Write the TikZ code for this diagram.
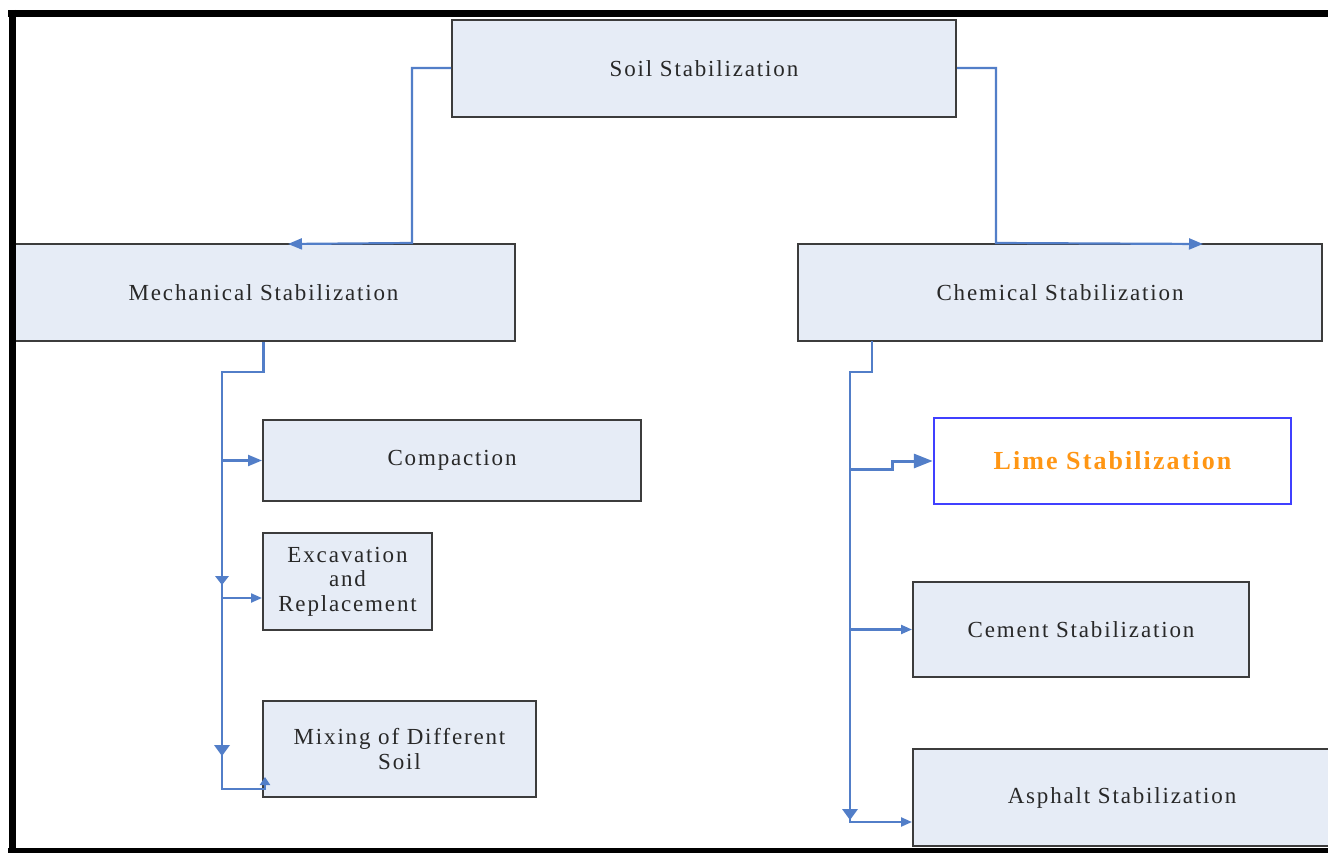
\documentclass[tikz,border=0pt]{standalone}
\usepackage{fontspec}
\usetikzlibrary{arrows.meta,calc}
\newfontfamily\lblfont{Liberation Serif}[LetterSpace=8]
\definecolor{boxfill}{RGB}{230,236,246}
\definecolor{boxline}{RGB}{60,60,60}
\definecolor{connblue}{RGB}{82,126,200}
\definecolor{limeblue}{RGB}{64,64,255}
\definecolor{limeorange}{RGB}{255,150,20}
\definecolor{txt}{RGB}{40,40,40}
\tikzset{
  box/.style={draw=boxline, fill=boxfill, line width=2pt, inner sep=0pt, align=center,
    text=txt, font=\lblfont\fontsize{23}{24.5}\selectfont},
  limebox/.style={draw=limeblue, fill=white, line width=2.5pt, inner sep=0pt, align=center,
    text=limeorange, font=\lblfont\bfseries\fontsize{26}{28}\selectfont},
  conn/.style={draw=connblue, line width=2.2pt},
  tipS/.style={-{Triangle[length=11pt,width=9pt]}},
  tipM/.style={-{Triangle[length=14pt,width=11pt]}},
  tipL/.style={-{Triangle[length=19pt,width=14pt]}},
  frame/.style={draw=black, line width=7pt}
}
\begin{document}
\begin{tikzpicture}[x=1pt,y=-1pt]
\useasboundingbox (0,0) rectangle (1328,853);
\fill[white] (0,0) rectangle (1328,853);
% boxes
\node[box, minimum width=504pt, minimum height=97pt] (soil) at (704,68.5) {Soil Stabilization};
\node[box, minimum width=503pt, minimum height=97pt] (mech) at (263.5,292.5) {Mechanical Stabilization};
\node[box, minimum width=524pt, minimum height=97pt] (chem) at (1060,292.5) {Chemical Stabilization};
\node[box, minimum width=378pt, minimum height=81pt] (comp) at (452,460.5) {Compaction};
\node[box, minimum width=169pt, minimum height=97pt] (exc) at (347.5,581.5) {Excavation\\and\\Replacement};
\node[box, minimum width=273pt, minimum height=96pt] (mix) at (399.5,749) {Mixing of Different\\Soil};
\node[limebox, minimum width=357pt, minimum height=86pt] (lime) at (1112.5,461) {Lime Stabilization};
\node[box, minimum width=336pt, minimum height=95pt] (cem) at (1081,629.5) {Cement Stabilization};
\node[box, minimum width=418pt, minimum height=97pt] (asph) at (1122,797.5) {Asphalt Stabilization};
% named turning points
\coordinate (sl) at (412,68);
\coordinate (mtip) at (288,244);
\coordinate (sr) at (996,68);
\coordinate (ctip) at (1203,244);
\coordinate (mj) at (222,372);
\coordinate (mb) at (222,789);
\coordinate (mixtip) at (265,777);
\coordinate (cs) at (872,341);
\coordinate (cj) at (850,372);
\coordinate (cb) at (850,822);
\coordinate (ls) at (892,469);
% top connectors
\draw[conn,tipM] (soil.west |- sl) -- (sl) -- (sl |- mech.north) -- (mtip);
\draw[conn,tipM] (soil.east |- sr) -- (sr) -- (sr |- chem.north) -- (ctip);
% mechanical tree
\draw[conn,-{Triangle[length=8pt,width=10pt]}] (mech.south) |- (mj) -- (mb) -| (mixtip);
\draw[conn,tipM] (comp.west -| mj) -- (comp.west);
\draw[conn,tipS] ($(exc.west -| mj)+(0,16.5)$) -- ($(exc.west)+(0,16.5)$);
\fill[connblue] (215,576) -- (229,576) -- (222,585) -- cycle;
\fill[connblue] (214,745) -- (230,745) -- (222,756) -- cycle;
% chemical tree
\draw[conn,tipS] (cs) |- (cj) -- (cb) -- (cb -| asph.west);
\draw[conn,tipS] (cem.west -| cj) -- (cem.west);
\draw[conn,line width=3pt,tipL] (ls -| cj) -- (ls) |- (lime.west);
\fill[connblue] (842,809) -- (858,809) -- (850,820) -- cycle;
% frame
\draw[frame] (8,13.5) -- (1328,13.5);
\draw[frame] (12,10) -- (12,853);
\draw[draw=black, line width=5pt] (8,850.5) -- (1328,850.5);
\end{tikzpicture}
\end{document}
